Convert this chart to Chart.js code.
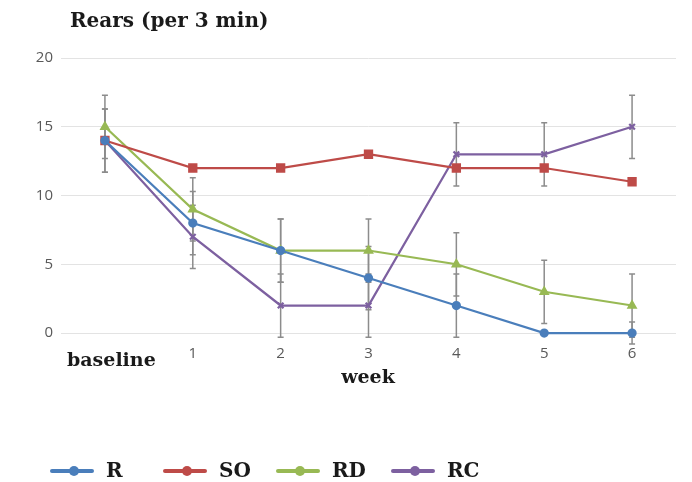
<!DOCTYPE html>
<html>
<head>
<meta charset="utf-8">
<script src="https://cdn.jsdelivr.net/npm/chart.js@4"></script>
<style>
  html, body { margin: 0; padding: 0; background: #fff; }
  #wrap { width: 692px; height: 482px; }
</style>
</head>
<body>
<div id="wrap"><canvas id="c" width="692" height="482"></canvas></div>
<script>
const weeks = ["baseline", "1", "2", "3", "4", "5", "6"];
const yTicks = [0, 5, 10, 15, 20];

const rVals = [14, 8, 6, 4, 2, 0, 0];
const soVals = [14, 12, 12, 13, 12, 12, 11];
const rdVals = [15, 9, 6, 6, 5, 3, 2];
const rcVals = [14, 7, 2, 2, 13, 13, 15];

// error bar half-lengths (SO has none)
const rErr = [2.3, 2.3, 2.3, 2.3, 2.3, 0, 0.8];
const rdErr = [2.3, 2.3, 2.3, 2.3, 2.3, 2.3, 2.3];
const rcErr = [2.3, 2.3, 2.3, 2.3, 2.3, 2.3, 2.3];

const serif = "'DejaVu Serif', serif";
const sans = "'Open Sans', 'Liberation Sans', sans-serif";

const errorBars = {
  id: "errorBars",
  beforeDatasetsDraw(chart) {
    const ctx = chart.ctx;
    const y = chart.scales.y;
    ctx.save();
    ctx.strokeStyle = "#8c8c8c";
    ctx.lineWidth = 1.5;
    chart.data.datasets.forEach((ds, di) => {
      if (!ds.err) return;
      const meta = chart.getDatasetMeta(di);
      meta.data.forEach((pt, i) => {
        const e = ds.err[i];
        if (!e) return;
        const top = y.getPixelForValue(ds.data[i] + e);
        const bot = y.getPixelForValue(ds.data[i] - e);
        ctx.beginPath();
        ctx.moveTo(pt.x, top);
        ctx.lineTo(pt.x, bot);
        ctx.moveTo(pt.x - 3, top);
        ctx.lineTo(pt.x + 3, top);
        ctx.moveTo(pt.x - 3, bot);
        ctx.lineTo(pt.x + 3, bot);
        ctx.stroke();
      });
    });
    ctx.restore();
  }
};

const extras = {
  id: "extras",
  afterDraw(chart) {
    const ctx = chart.ctx;
    ctx.save();
    ctx.fillStyle = "#1a1a1a";
    ctx.textBaseline = "alphabetic";
    ctx.textAlign = "left";
    ctx.font = "bold 20px " + serif;
    ctx.fillText("Rears (per 3 min)", 70, 27);
    ctx.font = "bold 19px " + serif;
    ctx.fillText(weeks[0], 67, 366);
    ctx.textAlign = "center";
    ctx.fillText("week", 368, 383);

    // legend: line with dot
    const legendX = [52, 165, 278, 393];
    ctx.textAlign = "left";
    ctx.textBaseline = "middle";
    chart.data.datasets.forEach((ds, i) => {
      const x = legendX[i];
      const yy = 471;
      ctx.strokeStyle = ds.borderColor;
      ctx.lineWidth = 4;
      ctx.lineCap = "round";
      ctx.beginPath();
      ctx.moveTo(x, yy);
      ctx.lineTo(x + 40, yy);
      ctx.stroke();
      ctx.fillStyle = ds.borderColor;
      ctx.beginPath();
      ctx.arc(x + 22, yy, 5, 0, Math.PI * 2);
      ctx.fill();
      ctx.fillStyle = "#1a1a1a";
      ctx.font = "bold 20px " + serif;
      ctx.fillText(ds.label, x + 54, yy + 1);
    });
    ctx.restore();
  }
};

new Chart(document.getElementById("c"), {
  type: "line",
  data: {
    labels: weeks,
    datasets: [
      {
        label: "R",
        data: rVals,
        err: rErr,
        borderColor: "#4a7ebb",
        backgroundColor: "#4a7ebb",
        pointStyle: "circle",
        pointRadius: 3.5,
        borderWidth: 2.25,
      },
      {
        label: "SO",
        data: soVals,
        borderColor: "#be4b48",
        backgroundColor: "#be4b48",
        pointStyle: "rect",
        pointRadius: 5,
        borderWidth: 2.25,
      },
      {
        label: "RD",
        data: rdVals,
        err: rdErr,
        borderColor: "#98b954",
        backgroundColor: "#98b954",
        pointStyle: "triangle",
        pointRadius: 4,
        borderWidth: 2.25,
      },
      {
        label: "RC",
        data: rcVals,
        err: rcErr,
        borderColor: "#7d60a0",
        backgroundColor: "#7d60a0",
        pointStyle: "crossRot",
        pointRadius: 4,
        borderWidth: 2.25,
      },
    ],
  },
  options: {
    responsive: false,
    animation: false,
    clip: false,
    layout: {
      padding: { top: 58, right: 16, left: 0, bottom: 0 },
    },
    scales: {
      x: {
        offset: true,
        grid: { display: false, drawTicks: false },
        border: { display: false },
        ticks: {
          color: "#595959",
          font: { family: sans, size: 15 },
          padding: 12,
          maxRotation: 0,
          callback: (v, i) => (i === 0 ? "" : weeks[i]),
        },
        afterFit: (s) => { s.height = 149; },
      },
      y: {
        min: yTicks[0],
        max: yTicks[yTicks.length - 1],
        grid: { color: "#e3e3e3", lineWidth: 1, drawTicks: false },
        border: { display: false },
        ticks: {
          stepSize: 5,
          color: "#595959",
          font: { family: sans, size: 15 },
          padding: 8,
        },
        afterFit: (s) => { s.width = 61; },
      },
    },
    plugins: {
      legend: { display: false },
      title: { display: false },
      tooltip: { enabled: false },
    },
  },
  plugins: [errorBars, extras],
});
</script>
</body>
</html>
